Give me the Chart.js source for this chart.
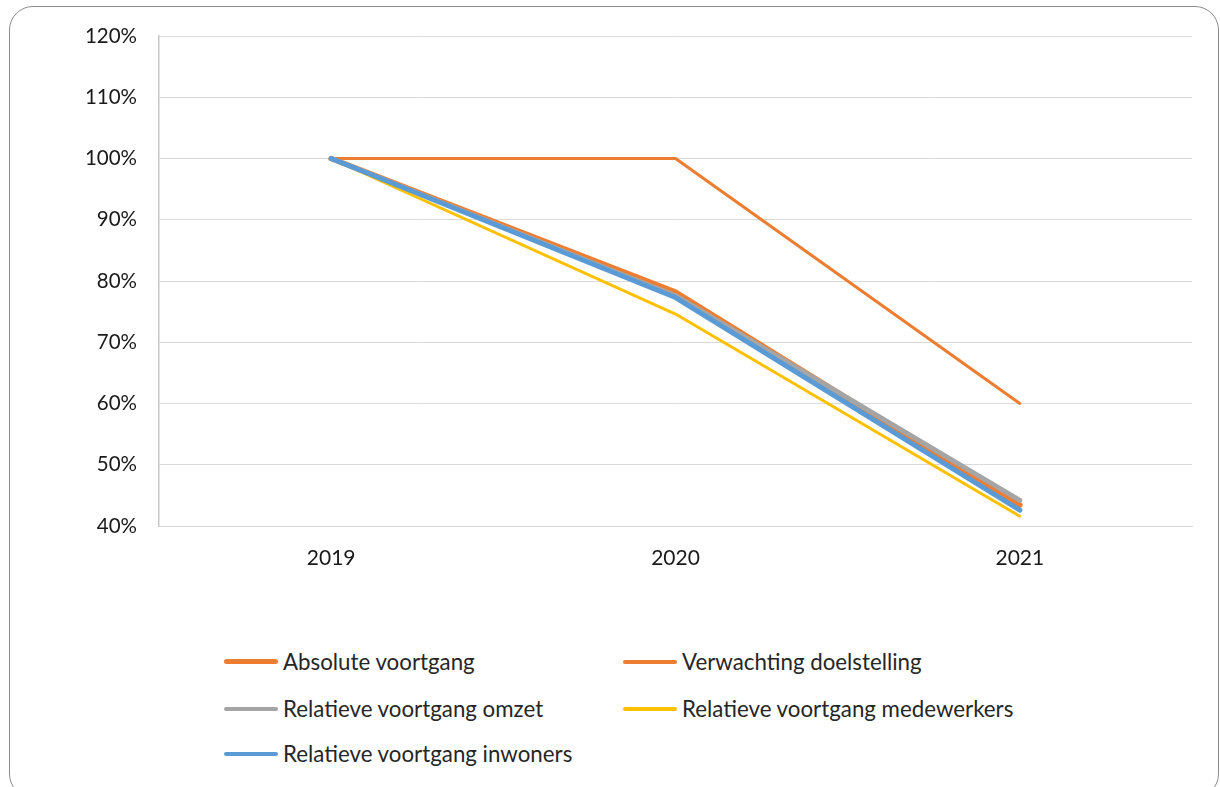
<!DOCTYPE html>
<html lang="nl">
  <head>
    <meta charset="UTF-8" />
    <title>Voortgang</title>
    <script src="https://cdn.jsdelivr.net/npm/chart.js"></script>
    <style>
      body {
        margin: 0;
        width: 1220px;
        height: 787px;
        overflow: hidden;
        background: #fff;
        font-family: Lato, "Noto Sans", sans-serif;
      }
      .frame {
        position: absolute;
        left: 9px;
        top: 6px;
        width: 1210px;
        height: 792px;
        box-sizing: border-box;
        border: 1.5px solid #8c8c8c;
        border-radius: 24px;
      }
      .chart_div {
        position: absolute;
        left: 0;
        top: 0;
        width: 1220px;
        height: 590px;
      }
      .legend_item {
        position: absolute;
        display: flex;
        align-items: center;
        font-size: 22.3px;
        color: #262626;
        white-space: nowrap;
      }
      .legend_item span.swatch {
        display: inline-block;
        width: 54px;
        border-radius: 3px;
        margin-right: 5px;
      }
    </style>
  </head>
  <body>
    <div class="frame"></div>
    <div class="chart_div">
      <canvas id="chart-area" width="1220" height="590"></canvas>
    </div>
    <div id="legend"></div>

    <script>
      const years = ["2019", "2020", "2021"];

      const absoluteVoortgang = [100, 78.2, 43.4];
      const verwachtingDoelstelling = [100, 100, 60];
      const relatiefOmzet = [100, 77.6, 44.2];
      const relatiefMedewerkers = [100, 74.6, 41.6];
      const relatiefInwoners = [100, 77.3, 42.6];

      const yTicks = [40, 50, 60, 70, 80, 90, 100, 110, 120];

      const seriesNames = [
        "Absolute voortgang",
        "Verwachting doelstelling",
        "Relatieve voortgang omzet",
        "Relatieve voortgang medewerkers",
        "Relatieve voortgang inwoners",
      ];

      const chartData = {
        labels: years,
        datasets: [
          { label: seriesNames[0], data: absoluteVoortgang, borderColor: "#ED7D31", borderWidth: 5.5, order: 5 },
          { label: seriesNames[1], data: verwachtingDoelstelling, borderColor: "#ED7D31", borderWidth: 3, order: 4 },
          { label: seriesNames[2], data: relatiefOmzet, borderColor: "#A5A5A5", borderWidth: 5, order: 3 },
          { label: seriesNames[3], data: relatiefMedewerkers, borderColor: "#FFC000", borderWidth: 3, order: 2 },
          { label: seriesNames[4], data: relatiefInwoners, borderColor: "#5B9BD5", borderWidth: 5, order: 1 },
        ],
      };

      chartData.datasets.forEach((ds) => {
        ds.pointRadius = 0;
        ds.tension = 0;
        ds.fill = false;
        ds.borderCapStyle = "round";
        ds.borderJoinStyle = "round";
      });

      const ctx = document.getElementById("chart-area").getContext("2d");

      const chart = new Chart(ctx, {
        type: "line",
        data: chartData,
        options: {
          responsive: false,
          animation: false,
          layout: { padding: { left: 0, right: 28, top: 36, bottom: 0 } },
          plugins: {
            legend: { display: false },
            tooltip: { enabled: false },
          },
          scales: {
            x: {
              offset: true,
              grid: { display: false, drawTicks: false },
              border: { display: true, color: "#d9d9d9", width: 1 },
              ticks: {
                padding: 20,
                color: "#1a1a1a",
                font: { family: "Lato", size: 21 },
              },
              afterFit: (s) => {
                s.height = 64;
              },
            },
            y: {
              min: 40,
              max: 120,
              afterBuildTicks: (s) => {
                s.ticks = yTicks.map((v) => ({ value: v }));
              },
              grid: { color: "#d9d9d9", lineWidth: 1, drawTicks: false },
              border: { display: true, color: "#c8c8c8", width: 1.5 },
              ticks: {
                padding: 22,
                color: "#1a1a1a",
                font: { family: "Lato", size: 20.5 },
                callback: (v) => v + "%",
              },
              afterFit: (s) => {
                s.width = 159;
              },
            },
          },
        },
      });

      // legend in twee kolommen, zoals in Excel
      const legendPos = [
        [224, 648],
        [623, 648],
        [224, 695],
        [623, 695],
        [224, 740],
      ];
      const legend = document.getElementById("legend");
      chart.data.datasets.forEach((ds, i) => {
        const item = document.createElement("div");
        item.className = "legend_item";
        item.style.left = legendPos[i][0] + "px";
        item.style.top = legendPos[i][1] + "px";
        const sw = document.createElement("span");
        sw.className = "swatch";
        sw.style.height = (i === 0 ? 5 : 4) + "px";
        sw.style.background = ds.borderColor;
        item.appendChild(sw);
        item.appendChild(document.createTextNode(ds.label));
        legend.appendChild(item);
      });
    </script>
  </body>
</html>
